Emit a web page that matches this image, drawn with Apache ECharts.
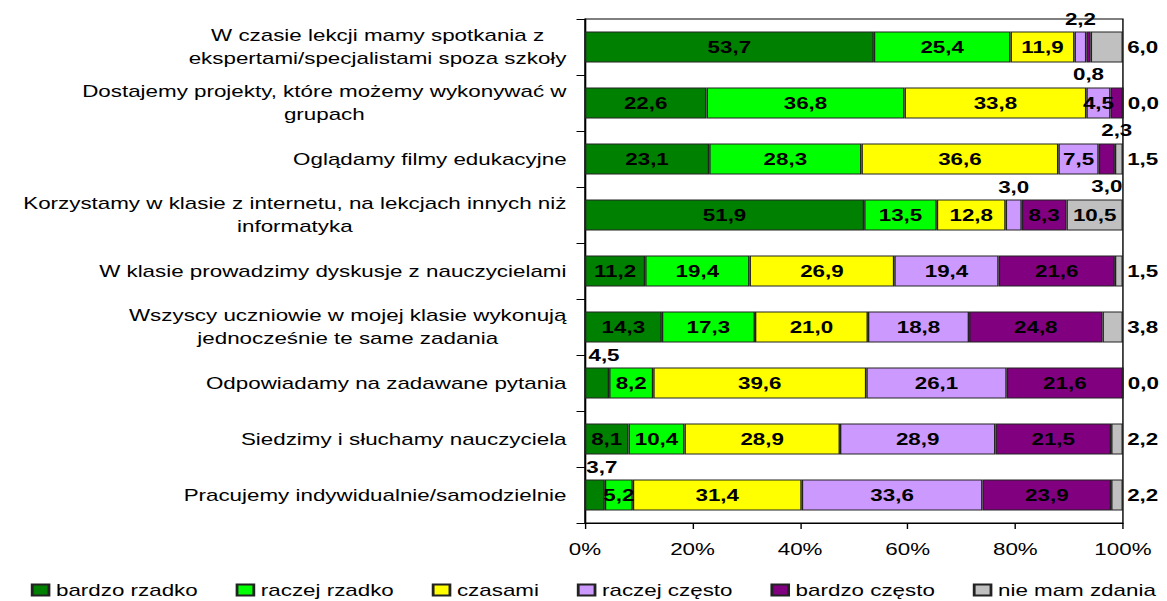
<!DOCTYPE html>
<html lang="pl">
  <head>
    <meta charset="UTF-8" />
    <title>Metody pracy na lekcjach</title>
    <script src="https://cdn.jsdelivr.net/npm/echarts@6/dist/echarts.min.js"></script>
    <style>
      body { margin: 0; background: #fff; }
      /* the reference picture is stretched sideways, so the chart is too */
      #chart { width: 834px; height: 601px; transform: scaleX(1.3993); transform-origin: 0 0; }
    </style>
  </head>
  <body>
    <div id="chart"></div>
    <script>
      const categories = [
        'W czasie lekcji mamy spotkania z\nekspertami/specjalistami spoza szkoły',
        'Dostajemy projekty, które możemy wykonywać w\ngrupach',
        'Oglądamy filmy edukacyjne',
        'Korzystamy w klasie z internetu, na lekcjach innych niż\ninformatyka',
        'W klasie prowadzimy dyskusje z nauczycielami',
        'Wszyscy uczniowie w mojej klasie wykonują\njednocześnie te same zadania',
        'Odpowiadamy na zadawane pytania',
        'Siedzimy i słuchamy nauczyciela',
        'Pracujemy indywidualnie/samodzielnie',
      ];
      const bardzoRzadko = [53.7, 22.6, 23.1, 51.9, 11.2, 14.3, 4.5, 8.1, 3.7];
      const raczejRzadko = [25.4, 36.8, 28.3, 13.5, 19.4, 17.3, 8.2, 10.4, 5.2];
      const czasami = [11.9, 33.8, 36.6, 12.8, 26.9, 21.0, 39.6, 28.9, 31.4];
      const raczejCzesto = [2.2, 4.5, 7.5, 3.0, 19.4, 18.8, 26.1, 28.9, 33.6];
      const bardzoCzesto = [0.8, 2.3, 3.0, 8.3, 21.6, 24.8, 21.6, 21.5, 23.9];
      const nieMamZdania = [6.0, 0.0, 1.5, 10.5, 1.5, 3.8, 0.0, 2.2, 2.2];
      const xTicks = [0, 20, 40, 60, 80, 100];

      const font = "'Liberation Sans', Arial, sans-serif";

      // labels of small pieces sit outside the bar
      const seriesDefs = [
        { name: 'bardzo rzadko', data: bardzoRzadko, color: '#008000', pos: { 6: 'top', 8: 'top' } },
        { name: 'raczej rzadko', data: raczejRzadko, color: '#00ff00', pos: {} },
        { name: 'czasami', data: czasami, color: '#ffff00', pos: {} },
        { name: 'raczej często', data: raczejCzesto, color: '#cc99ff', pos: { 0: 'top', 3: 'top' } },
        { name: 'bardzo często', data: bardzoCzesto, color: '#800080', pos: { 0: 'bottom', 1: 'bottom', 2: 'bottom' } },
        { name: 'nie mam zdania', data: nieMamZdania, color: '#c0c0c0', pos: { 0: 'right', 1: 'right', 2: 'right', 4: 'right', 5: 'right', 6: 'right', 7: 'right', 8: 'right' } },
      ];

      let series = seriesDefs.map(function (s) {
        return {
          name: s.name,
          type: 'bar',
          stack: 'total',
          barWidth: 31,
          itemStyle: { color: s.color, borderColor: '#222', borderWidth: 1 },
          label: {
            show: true,
            position: 'inside',
            color: '#000',
            fontFamily: font,
            fontSize: 16,
            fontWeight: 'bold',
            formatter: function (p) {
              return p.value.toFixed(1).replace('.', ',');
            },
          },
          data: s.data.map(function (v, i) {
            let item = { value: v };
            let pos = s.pos[i];
            if (pos) {
              item.label = { position: pos, distance: pos === 'right' ? 3 : 4 };
              // first-column labels above the bar start a little right of the axis
              if (pos === 'top' && s.name === 'bardzo rzadko') {
                item.label.offset = [5, 0];
              }
            }
            return item;
          }),
        };
      });

      let myCharts = echarts.init(document.getElementById('chart'), null, { renderer: 'svg' });
      let option = {
        animation: false,
        color: seriesDefs.map(function (s) { return s.color; }),
        grid: {
          left: 418,
          right: 31.5,
          top: 19,
          bottom: 78,
          show: true,
          borderColor: '#000',
          borderWidth: 1,
        },
        legend: {
          data: seriesDefs.map(function (s) { return s.name; }),
          left: 22,
          top: 582,
          padding: 0,
          width: 830,
          icon: 'rect',
          itemWidth: 12,
          itemHeight: 11,
          itemGap: 27,
          textStyle: { fontFamily: font, fontSize: 16, color: '#000' },
        },
        xAxis: {
          type: 'value',
          min: xTicks[0],
          max: xTicks[xTicks.length - 1],
          interval: 20,
          splitLine: { show: false },
          axisLine: { show: true, lineStyle: { color: '#000' } },
          axisTick: { show: true, length: 6, lineStyle: { color: '#000' } },
          axisLabel: { color: '#000', fontFamily: font, fontSize: 16, margin: 18, formatter: '{value}%' },
        },
        yAxis: {
          type: 'category',
          inverse: true,
          data: categories,
          axisLine: { show: true, lineStyle: { color: '#000' } },
          axisTick: { show: true, length: 6, lineStyle: { color: '#000' } },
          axisLabel: {
            color: '#000',
            fontFamily: font,
            fontSize: 16,
            margin: 13,
            lineHeight: 23,
            formatter: function (v) {
              return v.split('\n').map(function (line) { return '{c|' + line + '}'; }).join('\n');
            },
            rich: {
              c: { align: 'center', fontFamily: font, fontSize: 16, lineHeight: 23, color: '#000' },
            },
          },
        },
        series: series,
      };
      myCharts.setOption(option);
    </script>
  </body>
</html>
